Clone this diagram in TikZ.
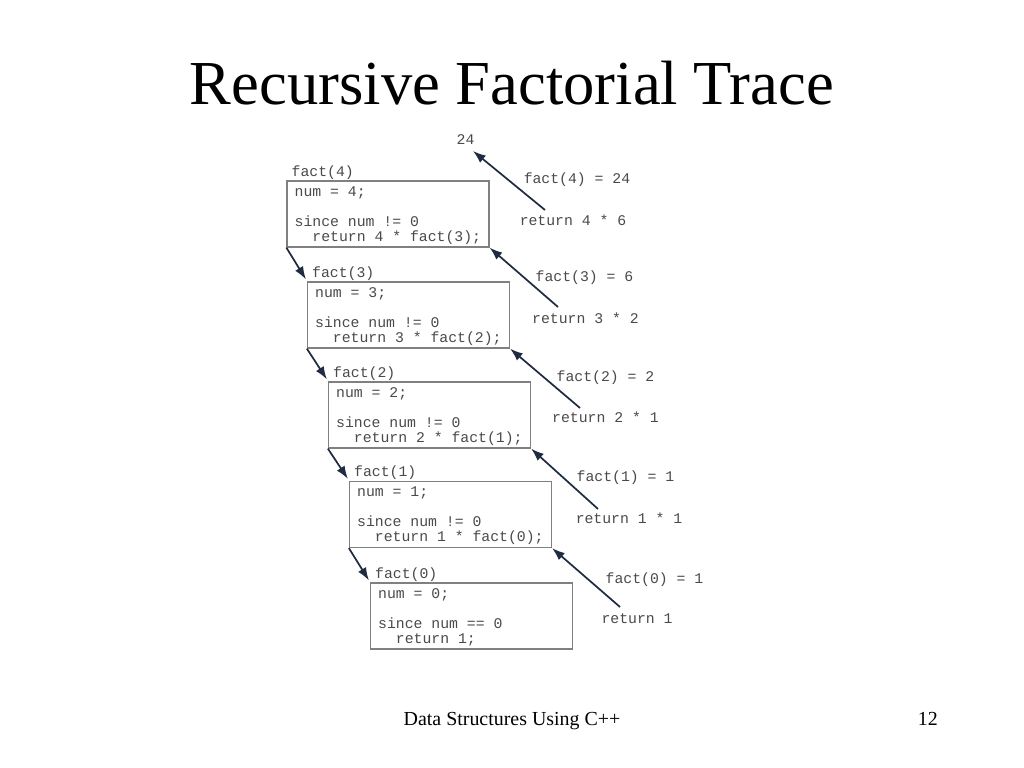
\documentclass[tikz,border=0pt]{standalone}
\usepackage{fontspec}
\setmainfont{Liberation Serif}
\newfontfamily\codefont{Liberation Mono}
\usetikzlibrary{arrows.meta,calc}
\definecolor{codegray}{HTML}{4A4A4A}
\definecolor{boxgray}{HTML}{808080}
\definecolor{arrownavy}{HTML}{1E2B40}
\begin{document}
\begin{tikzpicture}[x=0.703125pt,y=-0.703125pt,
  box/.style={draw=boxgray,line width=0.9pt,minimum width=142pt,minimum height=46.4pt,inner sep=0pt},
  code/.style={font=\codefont\fontsize{10.4}{12}\selectfont,text=codegray,inner sep=0pt,anchor=base west},
  lbl/.style={font=\codefont\fontsize{10.4}{12}\selectfont,text=codegray,inner sep=0pt,anchor=base},
  arr/.style={draw=arrownavy,line width=1.2pt,-{Latex[length=9pt,width=6.5pt]}}]
\fill[white] (0,0) rectangle (1024,768);
\useasboundingbox (0,0) rectangle (1024,768);

% title and footer
\node[font=\fontsize{44}{50}\selectfont,anchor=base,inner sep=0pt] (title) at (512,105) {Recursive Factorial Trace};
\node[font=\fontsize{14}{16}\selectfont,anchor=base,inner sep=0pt] (foot) at (512,725) {Data Structures Using C++};
\node[font=\fontsize{14}{16}\selectfont,anchor=base east,inner sep=0pt] (page) at (938,725) {12};

% boxes
\node[box] (b4) at (388,214) {};
\node[box] (b3) at (408.5,315) {};
\node[box] (b2) at (429.5,415) {};
\node[box] (b1) at (450.5,514.5) {};
\node[box] (b0) at (471.5,616) {};

% headers
\node[code] (h4) at ($(b4.north west)+(5,-4)$) {fact(4)};
\node[code] (h3) at ($(b3.north west)+(5,-4)$) {fact(3)};
\node[code] (h2) at ($(b2.north west)+(5,-4)$) {fact(2)};
\node[code] (h1) at ($(b1.north west)+(5,-4)$) {fact(1)};
\node[code] (h0) at ($(b0.north west)+(5,-4)$) {fact(0)};

% code lines
\node[code] (b4a) at ($(b4.north west)+(8,16)$) {num = 4;};
\node[code] (b4b) at ($(b4.north west)+(8,46)$) {since num != 0};
\node[code] (b4c) at ($(b4.north west)+(8,61)$) {\phantom{xx}return 4 * fact(3);};

\node[code] (b3a) at ($(b3.north west)+(8,16)$) {num = 3;};
\node[code] (b3b) at ($(b3.north west)+(8,46)$) {since num != 0};
\node[code] (b3c) at ($(b3.north west)+(8,61)$) {\phantom{xx}return 3 * fact(2);};

\node[code] (b2a) at ($(b2.north west)+(8,16)$) {num = 2;};
\node[code] (b2b) at ($(b2.north west)+(8,46)$) {since num != 0};
\node[code] (b2c) at ($(b2.north west)+(8,61)$) {\phantom{xx}return 2 * fact(1);};

\node[code] (b1a) at ($(b1.north west)+(8,16)$) {num = 1;};
\node[code] (b1b) at ($(b1.north west)+(8,46)$) {since num != 0};
\node[code] (b1c) at ($(b1.north west)+(8,61)$) {\phantom{xx}return 1 * fact(0);};

\node[code] (b0a) at ($(b0.north west)+(8,16)$) {num = 0;};
\node[code] (b0b) at ($(b0.north west)+(8,46)$) {since num == 0};
\node[code] (b0c) at ($(b0.north west)+(8,61)$) {\phantom{xx}return 1;};

% right-hand labels
\node[lbl] (n24) at (465.5,145) {24};
\node[lbl] (f4) at (577,184) {fact(4) = 24};
\node[lbl] (r4) at (573,226) {return 4 * 6};
\node[lbl] (f3) at (584.5,281) {fact(3) = 6};
\node[lbl] (r3) at (585.5,323) {return 3 * 2};
\node[lbl] (f2) at (605.5,381) {fact(2) = 2};
\node[lbl] (r2) at (605.5,422) {return 2 * 1};
\node[lbl] (f1) at (625.5,481) {fact(1) = 1};
\node[lbl] (r1) at (629,523) {return 1 * 1};
\node[lbl] (f0) at (654.5,583) {fact(0) = 1};
\node[lbl] (r0) at (637,623) {return 1};

% arrow anchor points
\coordinate (s4) at (545,210);
\coordinate (s3) at (558,307);
\coordinate (s2) at (580,408);
\coordinate (s1) at (598,509);
\coordinate (s0) at (620,607);
\coordinate (e24) at (473,151);

% return arrows
\draw[arr] (s4) -- (e24);
\draw[arr] (s3) -- (b4.south east);
\draw[arr] (s2) -- (b3.south east);
\draw[arr] (s1) -- (b2.south east);
\draw[arr] (s0) -- (b1.south east);

% call arrows
\draw[arr] (b4.south west) -- ($(b3.north west)+(-1,-2)$);
\draw[arr] (b3.south west) -- ($(b2.north west)+(-1,-2)$);
\draw[arr] (b2.south west) -- ($(b1.north west)+(-1,-2)$);
\draw[arr] (b1.south west) -- ($(b0.north west)+(-1,-2)$);
\end{tikzpicture}
\end{document}
